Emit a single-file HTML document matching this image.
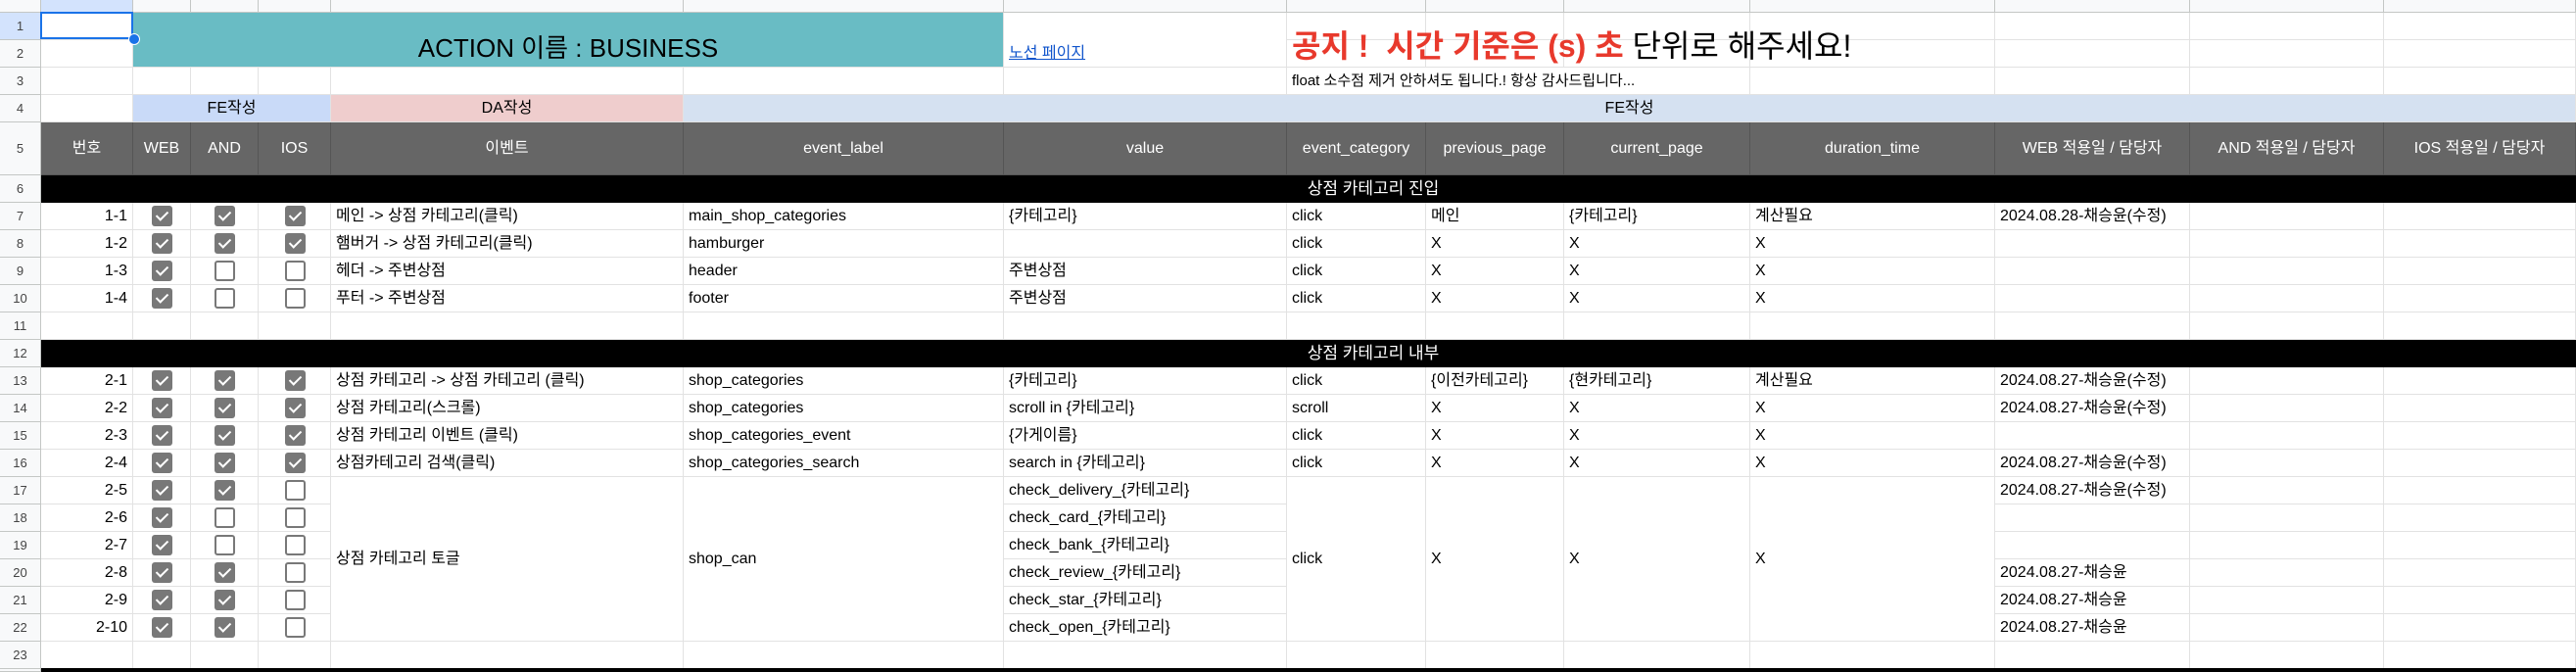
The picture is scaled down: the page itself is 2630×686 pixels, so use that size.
<!DOCTYPE html>
<html><head><meta charset="utf-8">
<style>
body{margin:0;width:2630px;height:686px;overflow:hidden;background:#fff;position:relative;font-family:"Liberation Sans","Noto Sans CJK KR",sans-serif;}
.c{position:absolute;box-sizing:border-box;border-right:1px solid #e2e2e2;border-bottom:1px solid #e2e2e2;font-size:16px;line-height:18px;color:#000;white-space:nowrap;overflow:hidden;display:flex;align-items:center;padding:0 5px;background:#fff;}
.c span,.c a{line-height:inherit;}
.cb{position:absolute;width:21px;height:21px;box-sizing:border-box;border-radius:3px;}
.on{background:#787878;}
.off{border:2px solid #787878;background:#fff;}
.on::after{content:"";position:absolute;left:7px;top:3px;width:5px;height:10px;border:solid #fff;border-width:0 2px 2px 0;transform:rotate(45deg);}
</style></head><body>
<div id="root"></div>
<script>
const colX=[0,42,136,195,264,338,698,1025,1314,1456,1597,1787,2037,2236,2434,2630];
function rowTop(r){if(r<=5)return 13+28*(r-1);return 179+28*(r-6);}
function rowBot(r){return r==5?179:rowTop(r)+28;}
const root=document.getElementById('root');
function cell(c0,c1,r0,r1,txt,name,st){
  const d=document.createElement('div');
  d.className='c';
  
  
  d.style.left=colX[c0]+'px';d.style.top=rowTop(r0)+'px';
  d.style.width=(colX[c1+1]-colX[c0])+'px';d.style.height=(rowBot(r1)-rowTop(r0))+'px';
  if(st)Object.assign(d.style,st);
  if(txt){const s=document.createElement('span');s.textContent=txt;d.appendChild(s);}
  root.appendChild(d);return d;
}
for(let c=1;c<15;c++){
  const d=document.createElement('div');
  d.className='c';
  
  
  Object.assign(d.style,{left:colX[c]+'px',top:'0px',width:(colX[c+1]-colX[c])+'px',height:'13px',background:c==1?'#d3e3fd':'#f8f9fa',borderColor:'#c4c7c5'});
  root.appendChild(d);
}
{const d=document.createElement('div');d.className='c';


Object.assign(d.style,{left:'0px',top:'0px',width:'42px',height:'13px',background:'#f8f9fa',borderColor:'#c4c7c5'});root.appendChild(d);}
for(let r=1;r<=24;r++){
  const d=document.createElement('div');
  d.className='c';
  
  
  const t=rowTop(r),h=(r==24?686-t:rowBot(r)-t);
  Object.assign(d.style,{left:'0px',top:t+'px',width:'42px',height:h+'px',background:r==1?'#d3e3fd':'#f8f9fa',borderColor:'#c4c7c5',fontSize:'13px',color:'#444',justifyContent:'center',padding:'0'});
  d.textContent=r<=23?r:'';
  root.appendChild(d);
}
for(let r=1;r<=23;r++)for(let c=1;c<15;c++)cell(c,c,r,r,'','grid-cell');
cell(2,6,1,2,'ACTION 이름 : BUSINESS','title-banner',{background:'#69bcc4',justifyContent:'center',fontSize:'26px',lineHeight:'30px',paddingTop:'16px'});
cell(7,7,1,2,'','link-cell',{alignItems:'flex-end',paddingBottom:'4px'}).innerHTML='<a style="color:#1155cc;text-decoration:underline">노선 페이지</a>';
cell(8,11,1,2,'','notice',{fontSize:'32px',lineHeight:'38px',fontWeight:'bold',alignItems:'flex-end',paddingBottom:'2px',overflow:'visible',background:'transparent'}).innerHTML='<span style="color:#e8392c">공지 !&nbsp; 시간 기준은 (s) 초</span>&nbsp;<span style="font-weight:normal">단위로 해주세요!</span>';
cell(8,10,3,3,'float 소수점 제거 안하셔도 됩니다.! 항상 감사드립니다...','sub-notice',{fontSize:'15px',overflow:'visible'});
cell(2,4,4,4,'FE작성','fe-group',{background:'#c9daf8',justifyContent:'center'});
cell(5,5,4,4,'DA작성','da-group',{background:'#efcdcd',justifyContent:'center'});
cell(6,14,4,4,'FE작성','fe-group-2',{background:'#d5e1f1',justifyContent:'center'});
const headers=['번호','WEB','AND','IOS','이벤트','event_label','value','event_category','previous_page','current_page','duration_time','WEB 적용일 / 담당자','AND 적용일 / 담당자','IOS 적용일 / 담당자'];
headers.forEach((h,i)=>cell(i+1,i+1,5,5,h,'header-cell',{background:'#666',color:'#fff',justifyContent:'center',borderColor:'#555',padding:'0'}));
function section(r,t){
  cell(1,14,r,r,'','section-bar',{background:'#000',borderColor:'#000'});
  const s=document.createElement('div');
  
  
  Object.assign(s.style,{position:'absolute',left:'1302px',width:'200px',textAlign:'center',top:(rowTop(r)+4)+'px',lineHeight:'20px',color:'#fff',fontSize:'17px'});
  s.textContent=t;root.appendChild(s);
}
section(6,'상점 카테고리 진입');
section(12,'상점 카테고리 내부');
{const d=document.createElement('div');


Object.assign(d.style,{position:'absolute',left:'42px',top:'682px',width:'2588px',height:'4px',background:'#000'});root.appendChild(d);}
const ids=['1-1','1-2','1-3','1-4','2-1','2-2','2-3','2-4','2-5','2-6','2-7','2-8','2-9','2-10'];
const rowsOf=[7,8,9,10,13,14,15,16,17,18,19,20,21,22];
const web=[1,1,1,1,1,1,1,1,1,1,1,1,1,1];
const and=[1,1,0,0,1,1,1,1,1,0,0,1,1,1];
const ios=[1,1,0,0,1,1,1,1,0,0,0,0,0,0];
const events=['메인 -> 상점 카테고리(클릭)','햄버거 -> 상점 카테고리(클릭)','헤더 -> 주변상점','푸터 -> 주변상점','상점 카테고리 -> 상점 카테고리 (클릭)','상점 카테고리(스크롤)','상점 카테고리 이벤트 (클릭)','상점카테고리 검색(클릭)'];
const labels=['main_shop_categories','hamburger','header','footer','shop_categories','shop_categories','shop_categories_event','shop_categories_search'];
const values=['{카테고리}','','주변상점','주변상점','{카테고리}','scroll in {카테고리}','{가게이름}','search in {카테고리}','check_delivery_{카테고리}','check_card_{카테고리}','check_bank_{카테고리}','check_review_{카테고리}','check_star_{카테고리}','check_open_{카테고리}'];
const cats=['click','click','click','click','click','scroll','click','click'];
const prevs=['메인','X','X','X','{이전카테고리}','X','X','X'];
const curs=['{카테고리}','X','X','X','{현카테고리}','X','X','X'];
const durs=['계산필요','X','X','X','계산필요','X','X','X'];
const webDates=['2024.08.28-채승윤(수정)','','','','2024.08.27-채승윤(수정)','2024.08.27-채승윤(수정)','','2024.08.27-채승윤(수정)','2024.08.27-채승윤(수정)','','','2024.08.27-채승윤','2024.08.27-채승윤','2024.08.27-채승윤'];
function box(col,r,on){
  const b=document.createElement('div');
  b.className='cb '+(on?'on':'off');
  
  
  const cx=(colX[col]+colX[col+1])/2;
  b.style.left=Math.round(cx-10.5)+'px';b.style.top=(rowTop(r)+3)+'px';
  root.appendChild(b);
}
ids.forEach((id,i)=>{
  const r=rowsOf[i];
  cell(1,1,r,r,id,'row-id',{justifyContent:'flex-end'});
  box(2,r,web[i]);box(3,r,and[i]);box(4,r,ios[i]);
  if(i<8){
    cell(5,5,r,r,events[i],'event-name');
    cell(6,6,r,r,labels[i],'event-label');
    cell(8,8,r,r,cats[i],'event-category');
    cell(9,9,r,r,prevs[i],'previous-page');
    cell(10,10,r,r,curs[i],'current-page');
    cell(11,11,r,r,durs[i],'duration-time');
  }
  cell(7,7,r,r,values[i],'value');
  cell(12,12,r,r,webDates[i],'web-date');
});
cell(5,5,17,22,'상점 카테고리 토글','event-name');
cell(6,6,17,22,'shop_can','event-label');
cell(8,8,17,22,'click','event-category');
cell(9,9,17,22,'X','previous-page');
cell(10,10,17,22,'X','current-page');
cell(11,11,17,22,'X','duration-time');
{const s=document.createElement('div');


Object.assign(s.style,{position:'absolute',left:'41px',top:'12px',width:'95px',height:'28px',border:'2px solid #1a73e8',boxSizing:'border-box'});root.appendChild(s);
const h=document.createElement('div');


Object.assign(h.style,{position:'absolute',left:'131px',top:'34px',width:'10px',height:'10px',borderRadius:'50%',background:'#1a73e8',border:'1px solid #fff'});root.appendChild(h);}
</script>
</body></html>
